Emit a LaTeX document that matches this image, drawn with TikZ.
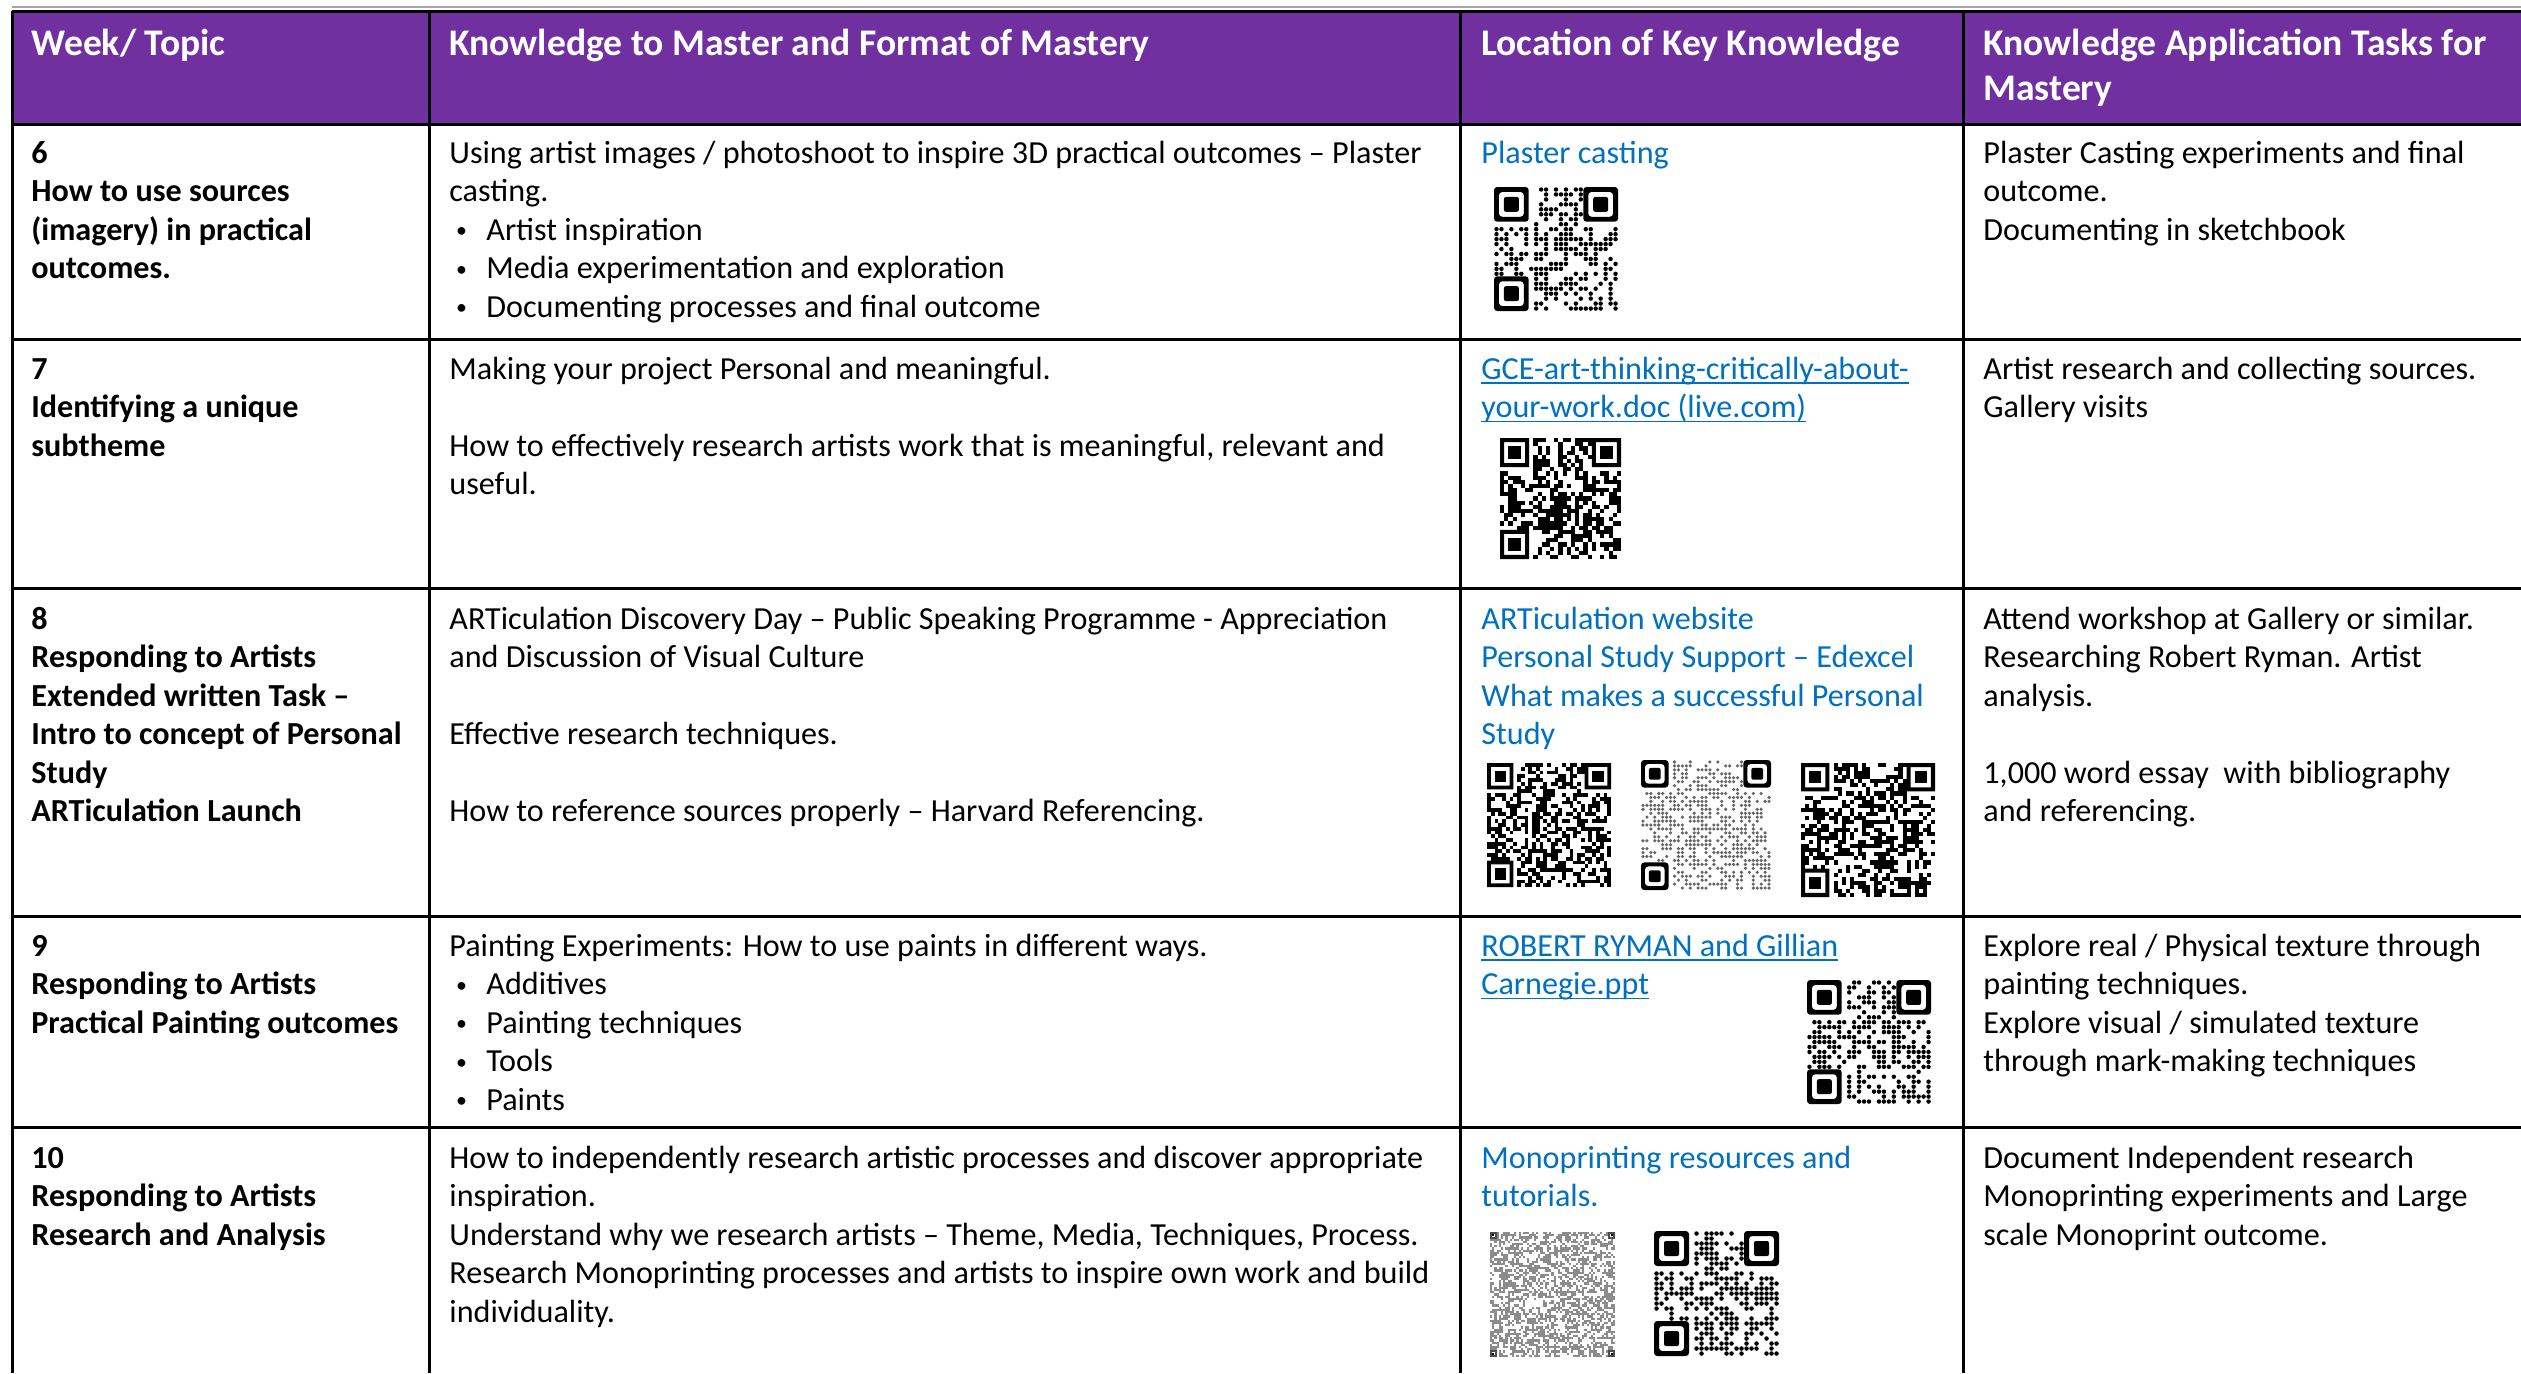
\documentclass[tikz,border=0pt]{standalone}
\usepackage{fontspec}
\setmainfont{Carlito}
\definecolor{hdpurple}{HTML}{7030A0}
\definecolor{linkblue}{HTML}{0070C0}
\newcommand\bodyfont{\fontsize{16.07pt}{19.2pt}\selectfont}
\newcommand\headfont{\fontsize{18.8pt}{22.5pt}\selectfont\bfseries}
\newcommand\bst{\rule{0pt}{14pt}}
\newcommand\hst{\rule{0pt}{16pt}}
\newcommand\bul[1]{\hspace*{3.4pt}\makebox[15.1pt][l]{\raisebox{1.2pt}{\scalebox{0.68}{•}}}#1}
\newlength\ulw
\newcommand\uln[1]{\settowidth\ulw{#1}\rlap{\rule[-2.2pt]{\ulw}{0.8pt}}#1}
% QR-like pattern: #1 x, #2 y, #3 size, #4 n, #5 seed, #6 colour, #7 style (0 square, 1 dot, 2 no finder)
\newcommand\myqr[7]{%
  \pgfmathsetseed{#5}%
  \pgfmathsetmacro\qm{#3/#4}%
  \pgfmathtruncatemacro\qn{#4-1}%
  \pgfmathtruncatemacro\qf{#4-8}%
  \pgfmathtruncatemacro\qg{#4-7}%
  \pgfmathtruncatemacro\qh{#4-3}%
  \foreach \i in {0,...,\qn}{%
    \foreach \j in {0,...,\qn}{%
      \pgfmathrandominteger\qrr{0}{99}%
      \ifnum#7=2 \def\qskip{0}\else
      \pgfmathtruncatemacro\qskip{((\i<8)&&(\j<8))||((\i>\qf)&&(\j<8))||((\i<8)&&(\j>\qf))}\fi
      \ifnum\qskip=0 \ifnum\qrr<50
        \ifnum#7=1
          \fill[#6] ({#1+(\i+0.5)*\qm},{#2+(\j+0.5)*\qm}) circle[radius={0.45*\qm}];
        \else
          \fill[#6] ({#1+\i*\qm},{#2+\j*\qm}) rectangle +(\qm,\qm);
        \fi
      \fi\fi
    }}%
  \ifnum#7=2
    \foreach \fx/\fy in {0/0,\qh/0,0/\qh,\qh/\qh}{%
      \fill[black!70] ({#1+(\fx)*\qm},{#2+(\fy)*\qm}) rectangle +(3*\qm,3*\qm);
      \fill[white] ({#1+(\fx+0.7)*\qm},{#2+(\fy+0.7)*\qm}) rectangle +(1.6*\qm,1.6*\qm);
      \fill[black] ({#1+(\fx+1.1)*\qm},{#2+(\fy+1.1)*\qm}) rectangle +(0.8*\qm,0.8*\qm);
    }%
  \else
    \foreach \fx/\fy in {0/0,\qg/0,0/\qg}{%
      \ifnum#7=1
        \fill[black,even odd rule,rounded corners=1.6pt] ({#1+(\fx)*\qm},{#2+(\fy)*\qm}) rectangle +(7*\qm,7*\qm)
           ({#1+(\fx+1)*\qm},{#2+(\fy+1)*\qm}) rectangle +(5*\qm,5*\qm);
        \fill[black,rounded corners=1pt] ({#1+(\fx+2)*\qm},{#2+(\fy+2)*\qm}) rectangle +(3*\qm,3*\qm);
      \else
        \fill[black,even odd rule] ({#1+(\fx)*\qm},{#2+(\fy)*\qm}) rectangle +(7*\qm,7*\qm)
           ({#1+(\fx+1)*\qm},{#2+(\fy+1)*\qm}) rectangle +(5*\qm,5*\qm);
        \fill[black] ({#1+(\fx+2)*\qm},{#2+(\fy+2)*\qm}) rectangle +(3*\qm,3*\qm);
      \fi
    }%
  \fi
}
\tikzset{
  body/.style={anchor=north west, inner sep=0pt, align=left, font=\bodyfont},
  bodyb/.style={body, font=\bodyfont\bfseries},
  link/.style={body, text=linkblue},
  head/.style={anchor=north west, inner sep=0pt, align=left, font=\headfont, text=white},
  grid/.style={line width=1.5pt, black}
}
\begin{document}
\begin{tikzpicture}[x=0.5pt,y=-0.5pt]
\useasboundingbox (0,0) rectangle (2521,1373);
\fill[white] (0,0) rectangle (2521,1373);
% header background
\fill[hdpurple] (12,11) rectangle (2521,124);
% grid
\draw[black!35, line width=0.6pt] (12,7) -- (2521,7);
\foreach \yy in {11,124,339,588,916,1127} \draw[grid] (12,\yy) -- (2521,\yy);
\foreach \xx in {12,429,1460.5,1963} \draw[grid] (\xx,11) -- (\xx,1373);

% header texts
\node[head] (h1) at (31,23) {\hst Week/ Topic};
\node[head] (h2) at (449,23) {\hst Knowledge to Master and Format of Mastery};
\node[head] (h3) at (1481,23) {\hst Location of Key Knowledge};
\node[head] (h4) at (1983,23) {\hst Knowledge Application Tasks for\\Mastery};

% row 6
\node[bodyb] (r6a) at (31,135) {\bst 6\\How to use sources\\(imagery) in practical\\outcomes.};
\node[body] (r6b) at (449,135) {\bst Using artist images / photoshoot to inspire 3D practical outcomes – Plaster\\casting.\\\bul{Artist inspiration}\\\bul{Media experimentation and exploration}\\\bul{Documenting processes and final outcome}};
\node[link] (r6c) at (1481,135) {\bst Plaster casting};
\node[body] (r6d) at (1983,135) {\bst Plaster Casting experiments and final\\outcome.\\Documenting in sketchbook};

% row 7
\node[bodyb] (r7a) at (31,351) {\bst 7\\Identifying a unique\\subtheme};
\node[body] (r7b) at (449,351) {\bst Making your project Personal and meaningful.\\~\\How to effectively research artists work that is meaningful, relevant and\\useful.};
\node[link] (r7c) at (1481,351) {\bst\uln{GCE-art-thinking-critically-about-}\\\uln{your-work.doc (live.com)}};
\node[body] (r7d) at (1983,351) {\bst Artist research and collecting sources.\\Gallery visits};

% row 8
\node[bodyb] (r8a) at (31,601) {\bst 8\\Responding to Artists\\Extended written Task –\\Intro to concept of Personal\\Study\\ARTiculation Launch};
\node[body] (r8b) at (449,601) {\bst ARTiculation Discovery Day – Public Speaking Programme - Appreciation\\and Discussion of Visual Culture\\~\\Effective research techniques.\\~\\How to reference sources properly – Harvard Referencing.};
\node[link] (r8c) at (1481,601) {\bst ARTiculation website\\Personal Study Support – Edexcel\\What makes a successful Personal\\Study};
\node[body] (r8d) at (1983,601) {\bst Attend workshop at Gallery or similar.\\Researching Robert Ryman. Artist\\analysis.\\~\\1,000 word essay\ \ with bibliography\\and referencing.};

% row 9
\node[bodyb] (r9a) at (31,928) {\bst 9\\Responding to Artists\\Practical Painting outcomes};
\node[body] (r9b) at (449,928) {\bst Painting Experiments: How to use paints in different ways.\\\bul{Additives}\\\bul{Painting techniques}\\\bul{Tools}\\\bul{Paints}};
\node[link] (r9c) at (1481,928) {\bst\uln{ROBERT RYMAN and Gillian}\\\uln{Carnegie.ppt}};
\node[body] (r9d) at (1983,928) {\bst Explore real / Physical texture through\\painting techniques.\\Explore visual / simulated texture\\through mark-making techniques};

% row 10
\node[bodyb] (r10a) at (31,1140) {\bst 10\\Responding to Artists\\Research and Analysis};
\node[body] (r10b) at (449,1140) {\bst How to independently research artistic processes and discover appropriate\\inspiration.\\Understand why we research artists – Theme, Media, Techniques, Process.\\Research Monoprinting processes and artists to inspire own work and build\\individuality.};
\node[link] (r10c) at (1481,1140) {\bst Monoprinting resources and\\tutorials.};
\node[body] (r10d) at (1983,1140) {\bst Document Independent research\\Monoprinting experiments and Large\\scale Monoprint outcome.};

% QR-like codes
\myqr{1494}{187}{124}{25}{11}{black}{1}
\myqr{1500}{438}{121}{29}{22}{black}{0}
\myqr{1487}{763}{124}{33}{33}{black}{0}
\myqr{1641}{760}{130}{33}{44}{black!60}{1}
\myqr{1801}{763}{134}{33}{55}{black}{0}
\myqr{1807}{980}{124}{25}{66}{black}{1}
\myqr{1490}{1232}{125}{57}{77}{black!45}{2}
\myqr{1654}{1231}{125}{25}{88}{black}{1}
\end{tikzpicture}
\end{document}
